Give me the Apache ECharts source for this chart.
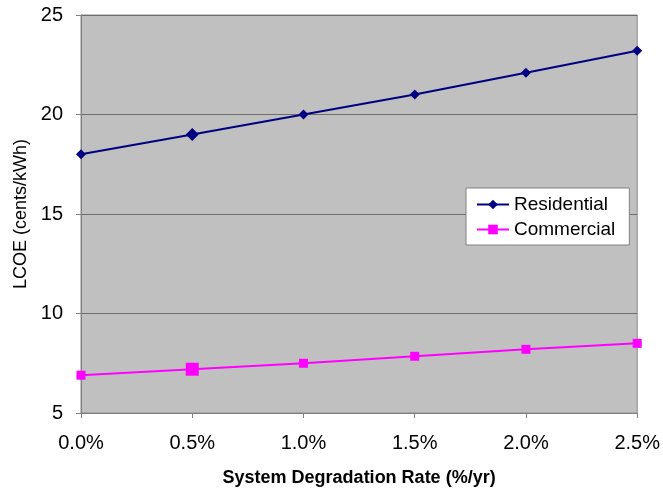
<!DOCTYPE html>
<html>
<head>
<meta charset="utf-8">
<script src="https://cdn.jsdelivr.net/npm/echarts@6/dist/echarts.min.js"></script>
<style>
  html, body { margin: 0; padding: 0; background: #ffffff; }
  #chart { width: 663px; height: 492px; }
</style>
</head>
<body>
<div id="chart"></div>
<script>
// Degradation rates on the x axis
const rates = ['0.0%', '0.5%', '1.0%', '1.5%', '2.0%', '2.5%'];
// LCOE values in cents/kWh
const residential = [18.0, 19.0, 20.0, 21.0, 22.1, 23.2];
const commercial = [6.9, 7.2, 7.5, 7.85, 8.2, 8.5];

const font = '"Liberation Sans", Arial, sans-serif';

const chart = echarts.init(document.getElementById('chart'));
chart.setOption({
  animation: false,
  backgroundColor: '#ffffff',
  grid: {
    left: 81, right: 25, top: 15, bottom: 77,
    show: true,
    backgroundColor: '#c0c0c0',
    borderColor: '#8c8c8c',
    borderWidth: 1
  },
  legend: {
    left: 466, top: 188,
    orient: 'vertical',
    backgroundColor: '#ffffff',
    borderColor: '#808080',
    borderWidth: 1,
    padding: [7, 14, 6, 10],
    itemGap: 6,
    itemWidth: 32,
    itemHeight: 12,
    textStyle: { fontFamily: font, fontSize: 19, color: '#000000' },
    data: ['Residential', 'Commercial']
  },
  xAxis: {
    type: 'category',
    data: rates,
    boundaryGap: false,
    name: 'System Degradation Rate (%/yr)',
    nameLocation: 'middle',
    nameGap: 56,
    nameTextStyle: { fontFamily: font, fontSize: 18, fontWeight: 'bold', color: '#000000' },
    axisLine: { lineStyle: { color: '#808080', width: 1 } },
    axisTick: { show: true, alignWithLabel: true, length: 5, lineStyle: { color: '#808080' } },
    axisLabel: { fontFamily: font, fontSize: 20, color: '#000000', margin: 20 },
    splitLine: { show: false }
  },
  yAxis: {
    type: 'value',
    min: 5, max: 25, interval: 5,
    name: 'LCOE (cents/kWh)',
    nameLocation: 'middle',
    nameGap: 50,
    nameTextStyle: { fontFamily: font, fontSize: 18, color: '#000000' },
    axisLine: { show: true, lineStyle: { color: '#808080', width: 1 } },
    axisTick: { show: true, length: 5, lineStyle: { color: '#808080' } },
    axisLabel: { fontFamily: font, fontSize: 20, color: '#000000', margin: 18 },
    splitLine: { show: true, lineStyle: { color: '#6e6e6e', width: 1 } }
  },
  series: [
    {
      name: 'Residential',
      type: 'line',
      data: residential.map((v, i) => i === 1 ? { value: v, symbolSize: 13 } : v),
      symbol: 'diamond',
      symbolSize: 10,
      showAllSymbol: true,
      lineStyle: { color: '#000080', width: 2 },
      itemStyle: { color: '#000080' }
    },
    {
      name: 'Commercial',
      type: 'line',
      data: commercial.map((v, i) => i === 1 ? { value: v, symbolSize: 13 } : v),
      symbol: 'rect',
      symbolSize: 9,
      showAllSymbol: true,
      lineStyle: { color: '#ff00ff', width: 2 },
      itemStyle: { color: '#ff00ff' }
    }
  ]
});
</script>
</body>
</html>
